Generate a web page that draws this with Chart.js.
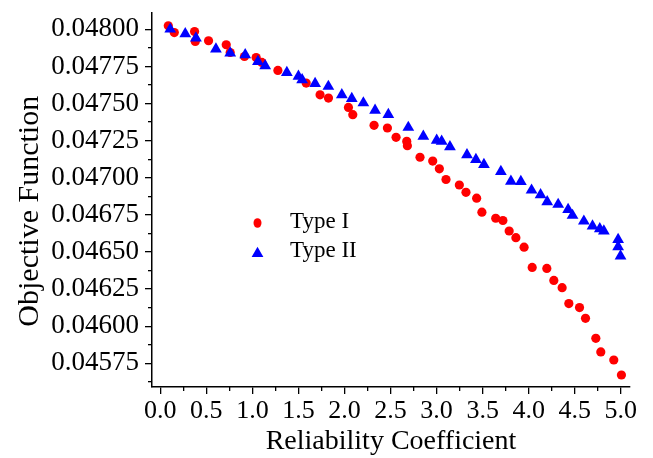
<!DOCTYPE html>
<html>
<head>
<meta charset="utf-8">
<script src="https://cdn.jsdelivr.net/npm/chart.js@4.4.1/dist/chart.umd.min.js"></script>
<style>
  html, body { margin: 0; padding: 0; background: #ffffff; }
  #wrap { width: 653px; height: 458px; }
</style>
</head>
<body>
<div id="wrap"><canvas id="c" width="653" height="458"></canvas></div>
<script>
// ---- Data ----
const typeIX = [0.087, 0.152, 0.372, 0.380, 0.524, 0.716, 0.759, 0.914, 1.041, 1.103,
                1.277, 1.584, 1.735, 1.826, 2.043, 2.090, 2.321, 2.466, 2.560, 2.676,
                2.683, 2.820, 2.958, 3.030, 3.102, 3.247, 3.319, 3.435, 3.492, 3.642,
                3.720, 3.788, 3.861, 3.950, 4.038, 4.197, 4.273, 4.363, 4.436, 4.552,
                4.617, 4.729, 4.783, 4.924, 5.007];
const typeIY = [0.048024, 0.047978, 0.047985, 0.047918, 0.047923, 0.047896, 0.047844, 0.047817, 0.047810, 0.047777,
                0.047723, 0.047638, 0.047559, 0.047537, 0.047474, 0.047425, 0.047353, 0.047335, 0.047272, 0.047245,
                0.047216, 0.047138, 0.047112, 0.047060, 0.046988, 0.046951, 0.046902, 0.046862, 0.046768, 0.046727,
                0.046712, 0.046641, 0.046596, 0.046532, 0.046396, 0.046389, 0.046308, 0.046259, 0.046152, 0.046125,
                0.046053, 0.045918, 0.045826, 0.045772, 0.045671];

const typeIIX = [0.108, 0.271, 0.387, 0.604, 0.759, 0.922, 1.060, 1.139, 1.374, 1.500,
                 1.540, 1.681, 1.825, 1.971, 2.079, 2.205, 2.332, 2.476, 2.693, 2.856,
                 3.001, 3.055, 3.145, 3.330, 3.427, 3.514, 3.698, 3.807, 3.915, 4.031,
                 4.129, 4.201, 4.320, 4.428, 4.476, 4.599, 4.693, 4.772, 4.816, 4.971,
                 4.971, 4.997];
const typeIIY = [0.048001, 0.047970, 0.047941, 0.047867, 0.047840, 0.047828, 0.047783, 0.047754, 0.047709, 0.047683,
                 0.047660, 0.047635, 0.047615, 0.047559, 0.047533, 0.047504, 0.047454, 0.047425, 0.047339, 0.047279,
                 0.047252, 0.047245, 0.047208, 0.047154, 0.047122, 0.047089, 0.047041, 0.046976, 0.046974, 0.046916,
                 0.046885, 0.046838, 0.046820, 0.046786, 0.046746, 0.046707, 0.046674, 0.046656, 0.046640, 0.046584,
                 0.046535, 0.046472];

const seriesNames = ['Type I', 'Type II'];

const xMajorTicks = [0, 0.5, 1, 1.5, 2, 2.5, 3, 3.5, 4, 4.5, 5];
const xTickLabels = ['0.0', '0.5', '1.0', '1.5', '2.0', '2.5', '3.0', '3.5', '4.0', '4.5', '5.0'];
const xMinorTicks = [0.25, 0.75, 1.25, 1.75, 2.25, 2.75, 3.25, 3.75, 4.25, 4.75];

const yMajorTicks = [0.04575, 0.046, 0.04625, 0.0465, 0.04675, 0.047, 0.04725, 0.0475, 0.04775, 0.048];
const yTickLabels = ['0.04575', '0.04600', '0.04625', '0.04650', '0.04675', '0.04700', '0.04725', '0.04750', '0.04775', '0.04800'];
const yMinorTicks = [0.045625, 0.045875, 0.046125, 0.046375, 0.046625, 0.046875, 0.047125, 0.047375, 0.047625, 0.047875];

const xTitle = 'Reliability Coefficient';
const yTitle = 'Objective Function';

// ---- Styling ----
const FONT = "'Liberation Serif', 'Times New Roman', serif";
const X_MIN = -0.09, X_MAX = 5.1;
const Y_MIN = 0.04559, Y_MAX = 0.04811;

function pts(xs, ys) { return xs.map((x, i) => ({ x: x, y: ys[i] })); }
function noPad(s) { s.paddingTop = 0; s.paddingBottom = 0; s.paddingLeft = 0; s.paddingRight = 0; }

const innerLegend = {
  id: 'innerLegend',
  afterDatasetsDraw(chart) {
    const ctx = chart.ctx;
    const a = chart.chartArea;
    const rows = [
      { ds: chart.data.datasets[1], my: a.top + 210, ty: a.top + 215 },
      { ds: chart.data.datasets[0], my: a.top + 240.5, ty: a.top + 244 }
    ];
    ctx.save();
    rows.forEach(r => {
      const mx = a.left + 105.5;
      ctx.fillStyle = r.ds.backgroundColor;
      ctx.beginPath();
      if (r.ds.pointStyle === 'triangle') {
        const rad = r.ds.pointRadius;
        for (let k = 0; k < 3; k++) {
          const ang = k * 2 * Math.PI / 3;
          const px = mx + Math.sin(ang) * rad, py = r.my - Math.cos(ang) * rad;
          if (k === 0) ctx.moveTo(px, py); else ctx.lineTo(px, py);
        }
        ctx.closePath();
      } else {
        ctx.ellipse(mx, r.my, 4, 4.8, 0, 0, Math.PI * 2);
      }
      ctx.fill();
      ctx.fillStyle = '#000';
      ctx.font = "23px " + FONT;
      ctx.textAlign = 'left';
      ctx.textBaseline = 'alphabetic';
      ctx.fillText(r.ds.label, a.left + 138, r.ty);
    });
    ctx.restore();
  }
};

new Chart(document.getElementById('c').getContext('2d'), {
  type: 'scatter',
  data: {
    datasets: [
      { label: seriesNames[1], data: pts(typeIIX, typeIIY), pointStyle: 'triangle', pointRadius: 6.8,
        backgroundColor: '#0000FF', borderColor: '#0000FF', borderWidth: 0, order: 0 },
      { label: seriesNames[0], data: pts(typeIX, typeIY), pointStyle: 'circle', pointRadius: 4.6,
        backgroundColor: '#FF0000', borderColor: '#FF0000', borderWidth: 0, order: 1 }
    ]
  },
  options: {
    responsive: false,
    animation: false,
    devicePixelRatio: 1,
    layout: { padding: { top: 13, right: 23, left: 0, bottom: 0 } },
    plugins: { legend: { display: false }, tooltip: { enabled: false } },
    scales: {
      x: {
        type: 'linear', position: 'bottom', weight: 1, min: X_MIN, max: X_MAX,
        afterBuildTicks: s => { s.ticks = xMajorTicks.map(v => ({ value: v })); },
        afterFit: s => { s.height = 71; noPad(s); },
        ticks: { autoSkip: false, maxRotation: 0, padding: 2, color: '#000', font: { family: FONT, size: 26 },
                 callback: (v, i) => xTickLabels[i] },
        grid: { drawOnChartArea: false, drawTicks: true, tickLength: 7, color: '#000', lineWidth: 1.3 },
        border: { display: true, color: '#000', width: 1.5 },
        title: { display: true, text: xTitle, color: '#000', font: { family: FONT, size: 28, lineHeight: 1.15 },
                 padding: { top: 0, bottom: 0 } }
      },
      x2: {
        type: 'linear', position: 'bottom', weight: 0, min: X_MIN, max: X_MAX,
        afterBuildTicks: s => { s.ticks = xMinorTicks.map(v => ({ value: v })); },
        afterFit: s => { s.height = 0; noPad(s); },
        ticks: { display: false },
        grid: { drawOnChartArea: false, drawTicks: true, tickLength: 4, color: '#000', lineWidth: 1.3 },
        border: { display: false }
      },
      y: {
        type: 'linear', position: 'left', weight: 1, min: Y_MIN, max: Y_MAX,
        afterBuildTicks: s => { s.ticks = yMajorTicks.map(v => ({ value: v })); },
        afterFit: s => { s.width = 152; noPad(s); },
        ticks: { autoSkip: false, padding: 6, color: '#000', font: { family: FONT, size: 27 },
                 callback: (v, i) => yTickLabels[i] },
        grid: { drawOnChartArea: false, drawTicks: true, tickLength: 7, color: '#000', lineWidth: 1.3 },
        border: { display: true, color: '#000', width: 1.5 },
        title: { display: true, text: yTitle + '   ', color: '#000', font: { family: FONT, size: 30 },
                 padding: { top: 12, bottom: 0 } }
      },
      y2: {
        type: 'linear', position: 'left', weight: 0, min: Y_MIN, max: Y_MAX,
        afterBuildTicks: s => { s.ticks = yMinorTicks.map(v => ({ value: v })); },
        afterFit: s => { s.width = 0; noPad(s); },
        ticks: { display: false },
        grid: { drawOnChartArea: false, drawTicks: true, tickLength: 4, color: '#000', lineWidth: 1.3 },
        border: { display: false }
      }
    }
  },
  plugins: [innerLegend]
});
</script>
</body>
</html>
